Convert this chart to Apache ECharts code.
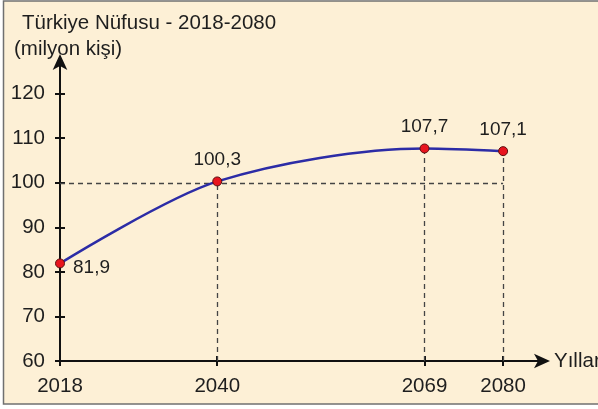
<!DOCTYPE html>
<html><head><meta charset="utf-8">
<script src="https://cdn.jsdelivr.net/npm/echarts@6/dist/echarts.min.js"></script>
<style>html,body{margin:0;padding:0;background:#fff}#c{width:598px;height:409px}</style>
</head><body><div id="c"></div>
<script>
const years = [2018, 2040, 2069, 2080];
const population = [81.9, 100.3, 107.7, 107.1];
const yTicks = [60, 70, 80, 90, 100, 110, 120];
const xTicks = [2018, 2040, 2069, 2080];
const titleText = 'Türkiye Nüfusu - 2018-2080';
const unitText = '(milyon kişi)';
const xName = 'Yıllar';
const refLevel = 100;

const font = 'Liberation Sans, Arial, sans-serif';
const txt = '#1e1e1e';
const fmt = v => String(v).replace('.', ',');

const data = years.map((y, i) => [y, population[i]]);
const guides = [];
for (let i = 1; i < years.length; i++) {
  guides.push([{coord: [years[i], 60]}, {coord: [years[i], population[i]]}]);
}
guides.push([{coord: [years[0], refLevel]}, {coord: [years[years.length - 1], refLevel]}]);

const chart = echarts.init(document.getElementById('c'), null, {renderer: 'canvas'});
const tickStyle = {color: '#111', width: 2};
const fs = 20.5;
chart.setOption({
  backgroundColor: 'transparent',
  animation: false,
  graphic: [{
    type: 'rect', z: -10, silent: true,
    shape: {x: 3.5, y: 1, width: 600, height: 403},
    style: {fill: '#FDF0D6', stroke: '#707070', lineWidth: 1.5}
  }],
  title: [
    {text: titleText, left: 17, top: 8, textStyle: {fontFamily: font, fontSize: fs, fontWeight: 'normal', color: txt}},
    {text: unitText, left: 9, top: 34, textStyle: {fontFamily: font, fontSize: fs, fontWeight: 'normal', color: txt}}
  ],
  grid: {left: 60, right: 52, top: 58, bottom: 48, containLabel: false, outerBoundsMode: 'none'},
  xAxis: [{
    type: 'value', min: 2018, max: 2086,
    splitLine: {show: false},
    axisLine: {show: true, symbol: ['none', 'arrow'], symbolSize: [11, 16], symbolOffset: [0, 4], lineStyle: tickStyle},
    name: xName, nameLocation: 'end', nameGap: 8,
    nameTextStyle: {fontFamily: font, fontSize: fs, color: txt},
    axisTick: {show: true, length: 5, lineStyle: tickStyle, customValues: xTicks},
    axisLabel: {show: true, margin: 15, fontFamily: font, fontSize: fs, color: txt, customValues: xTicks, formatter: v => String(v)}
  }, {
    type: 'value', min: 2018, max: 2086, position: 'bottom',
    axisLine: {show: false},
    splitLine: {show: false},
    axisTick: {show: true, inside: true, length: 5, lineStyle: tickStyle, customValues: xTicks},
    axisLabel: {show: false}
  }],
  yAxis: [{
    type: 'value', min: 60, max: 128,
    splitLine: {show: false},
    axisLine: {show: true, symbol: ['none', 'arrow'], symbolSize: [11, 16], symbolOffset: [0, 4], lineStyle: tickStyle},
    axisTick: {show: true, length: 5, lineStyle: tickStyle, customValues: yTicks},
    axisLabel: {show: true, margin: 15, fontFamily: font, fontSize: fs, color: txt, customValues: yTicks}
  }, {
    type: 'value', min: 60, max: 128, position: 'left',
    axisLine: {show: false},
    splitLine: {show: false},
    axisTick: {show: true, inside: true, length: 5, lineStyle: tickStyle, customValues: yTicks},
    axisLabel: {show: false}
  }],
  series: [{
    type: 'line',
    data: data,
    smooth: 0.3,
    z: 5,
    lineStyle: {color: '#2c2ca6', width: 2.5},
    symbol: 'circle', symbolSize: 9,
    itemStyle: {color: '#e8141e', borderColor: '#5a1010', borderWidth: 1},
    label: {
      show: true, position: 'top', distance: 7,
      fontFamily: font, fontSize: 19, color: txt,
      formatter: p => fmt(p.value[1])
    },
    labelLayout: function (params) {
      if (params.dataIndex === 0) {
        return {x: params.rect.x + 18, y: params.rect.y + 9, align: 'left', verticalAlign: 'middle'};
      }
      return {};
    },
    markLine: {
      silent: true, symbol: 'none', label: {show: false},
      lineStyle: {type: [5, 4], color: '#444', width: 1.3},
      data: guides
    }
  }]
});
</script>
</body></html>
